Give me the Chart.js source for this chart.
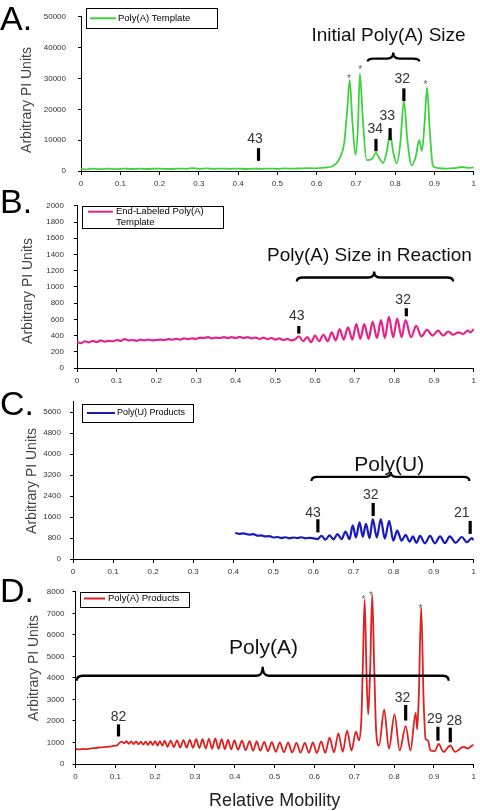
<!DOCTYPE html>
<html>
<head>
<meta charset="utf-8">
<script src="https://cdn.jsdelivr.net/npm/chart.js@4.4.0/dist/chart.umd.min.js"></script>
<style>
  body { margin: 0; background: #fff; width: 480px; height: 811px; position: relative; overflow: hidden; font-family: "Liberation Sans", Arial, sans-serif; }
  .panel { position: absolute; left: 0; width: 480px; }
  .tag { position: absolute; left: 0; font-size: 34px; line-height: 1; color: #000; }
</style>
</head>
<body>
<div class="panel" style="top:0;height:191px"><canvas id="cA"></canvas></div>
<div class="panel" style="top:191px;height:197px"><canvas id="cB"></canvas></div>
<div class="panel" style="top:388px;height:191px"><canvas id="cC"></canvas></div>
<div class="panel" style="top:579px;height:232px"><canvas id="cD"></canvas></div>
<div class="tag" style="top:1px">A.</div>
<div class="tag" style="top:184px">B.</div>
<div class="tag" style="top:386px">C.</div>
<div class="tag" style="top:573px">D.</div>
<script>
Chart.defaults.font.family = '"Liberation Sans", Arial, sans-serif';

// x = relative mobility, y = arbitrary PI units
const templateA = [[0,700],[0.015,500],[0.03,800],[0.05,600],[0.07,750],[0.09,600],[0.11,800],[0.13,650],[0.15,750],[0.17,650],[0.19,800],[0.21,700],[0.23,650],[0.25,800],[0.27,700],[0.285,950],[0.3,700],[0.32,850],[0.34,700],[0.36,800],[0.38,700],[0.4,800],[0.42,650],[0.44,750],[0.46,700],[0.48,800],[0.5,700],[0.52,850],[0.54,750],[0.56,850],[0.58,900],[0.6,850],[0.62,1100],[0.635,1300],[0.65,2500],[0.66,4500],[0.67,9000],[0.678,20000],[0.684,29500],[0.691,16000],[0.699,5200],[0.705,14000],[0.71,31600],[0.717,18000],[0.727,3500],[0.74,3800],[0.751,5900],[0.76,4000],[0.769,2600],[0.778,6000],[0.787,12000],[0.795,6000],[0.804,2500],[0.813,9000],[0.822,22800],[0.831,10000],[0.842,1800],[0.852,4500],[0.861,10000],[0.868,6500],[0.875,16000],[0.881,27000],[0.888,13000],[0.896,1700],[0.91,900],[0.93,800],[0.95,900],[0.97,1300],[0.985,1000],[1,1200]];

const endLabeledB = [[0,320],[0.01,305],[0.02,330],[0.03,315],[0.04,335],[0.05,320],[0.06,340],[0.07,325],[0.08,335],[0.09,330],[0.1,345],[0.11,335],[0.12,355],[0.13,340],[0.14,345],[0.15,335],[0.16,350],[0.17,340],[0.18,350],[0.19,340],[0.2,345],[0.21,350],[0.22,345],[0.23,355],[0.24,350],[0.25,360],[0.26,350],[0.27,365],[0.28,355],[0.29,365],[0.3,360],[0.31,375],[0.32,370],[0.33,380],[0.34,365],[0.35,375],[0.36,370],[0.37,380],[0.38,370],[0.39,380],[0.4,370],[0.41,385],[0.42,370],[0.43,380],[0.44,365],[0.45,375],[0.46,360],[0.47,375],[0.48,355],[0.49,370],[0.5,350],[0.51,365],[0.52,345],[0.53,360],[0.54,340],[0.55,355],[0.559,390],[0.57,330],[0.58,380],[0.59,320],[0.6,400],[0.61,330],[0.621,410],[0.632,330],[0.642,440],[0.652,340],[0.662,480],[0.672,350],[0.683,500],[0.694,350],[0.704,540],[0.714,360],[0.724,540],[0.735,360],[0.745,570],[0.756,370],[0.766,590],[0.776,370],[0.786,630],[0.797,380],[0.807,610],[0.818,380],[0.828,590],[0.842,380],[0.855,520],[0.868,390],[0.882,470],[0.896,400],[0.91,460],[0.923,400],[0.936,450],[0.948,410],[0.961,440],[0.973,420],[0.985,460],[0.992,440],[1,480]];

const polyUC = [[0.405,1000],[0.415,960],[0.425,980],[0.44,930],[0.45,950],[0.46,890],[0.47,900],[0.48,860],[0.49,870],[0.5,820],[0.51,840],[0.52,800],[0.53,830],[0.54,790],[0.55,820],[0.56,800],[0.57,830],[0.58,790],[0.59,810],[0.6,790],[0.61,760],[0.62,880],[0.63,740],[0.64,900],[0.65,750],[0.66,950],[0.67,760],[0.68,1050],[0.69,760],[0.698,1280],[0.706,820],[0.715,1400],[0.723,850],[0.731,1340],[0.74,800],[0.748,1520],[0.758,820],[0.768,1520],[0.778,780],[0.789,1460],[0.799,700],[0.809,1080],[0.82,700],[0.83,920],[0.84,660],[0.848,860],[0.857,620],[0.866,880],[0.878,600],[0.891,880],[0.903,600],[0.916,860],[0.928,610],[0.94,860],[0.955,620],[0.97,840],[0.983,640],[0.995,800],[1,720]];

const polyAD = [[0,700],[0.01,680],[0.02,700],[0.03,690],[0.04,730],[0.05,740],[0.06,770],[0.07,780],[0.08,800],[0.09,820],[0.1,850],[0.105,870],[0.11,980],[0.116,1040],[0.122,960],[0.128,1060],[0.134,940],[0.14,1050],[0.146,930],[0.152,1050],[0.158,920],[0.164,1040],[0.17,900],[0.176,1040],[0.182,890],[0.188,1050],[0.194,880],[0.2,1060],[0.206,860],[0.212,1060],[0.218,850],[0.224,1080],[0.231,800],[0.239,1090],[0.247,790],[0.255,1100],[0.263,770],[0.271,1110],[0.279,760],[0.287,1120],[0.295,750],[0.303,1150],[0.311,740],[0.319,1150],[0.327,720],[0.335,1170],[0.343,710],[0.351,1190],[0.359,700],[0.367,1150],[0.375,690],[0.383,1120],[0.391,680],[0.399,1100],[0.408,660],[0.418,1080],[0.427,640],[0.437,1060],[0.446,620],[0.455,1050],[0.464,610],[0.474,1030],[0.483,590],[0.493,1010],[0.503,570],[0.513,1000],[0.523,550],[0.534,990],[0.544,540],[0.555,980],[0.565,530],[0.576,980],[0.586,520],[0.596,1000],[0.606,510],[0.617,1050],[0.627,520],[0.638,1220],[0.649,540],[0.66,1420],[0.671,570],[0.682,1550],[0.693,620],[0.704,1500],[0.712,1100],[0.718,2200],[0.722,5000],[0.726,7650],[0.731,4000],[0.735,2300],[0.74,4500],[0.745,7870],[0.75,4500],[0.755,1500],[0.762,850],[0.775,2520],[0.787,710],[0.801,2300],[0.814,630],[0.829,1760],[0.841,630],[0.854,2370],[0.858,1610],[0.862,3200],[0.868,7270],[0.874,3000],[0.879,1160],[0.885,1100],[0.891,630],[0.902,600],[0.912,930],[0.924,560],[0.941,860],[0.953,560],[0.965,700],[0.974,800],[0.985,720],[0.995,850],[1,880]];

const seriesNames = [['Poly(A) Template'], ['End-Labeled Poly(A)', 'Template'], ['Poly(U) Products'], ['Poly(A) Products']];
const yAxisMax = [50000, 2000, 6000, 8000];
const yTicksA = [0, 10000, 20000, 30000, 40000, 50000];
const yTicksB = [0, 200, 400, 600, 800, 1000, 1200, 1400, 1600, 1800, 2000];
const yTicksC = [0, 800, 1600, 2400, 3200, 4000, 4800, 5600];
const yTicksD = [0, 1000, 2000, 3000, 4000, 5000, 6000, 7000, 8000];

// size labels over the ladders: [text, x, y of text, y top of bar, y bottom of bar, x of bar]
const sizeTagsA = [['43', 0.443, 10400, 7400, 3300, 0.452], ['34', 0.749, 13600, 10400, 6400, 0.751], ['33', 0.780, 17700, 13900, 10000, 0.787], ['32', 0.818, 29800, 26800, 22700, 0.822]];
const sizeTagsB = [['43', 0.554, 640, 518, 423, 0.559], ['32', 0.822, 836, 737, 638, 0.83]];
const sizeTagsC = [['43', 0.599, 1763, 1517, 1017, 0.611], ['32', 0.743, 2449, 2136, 1640, 0.749], ['21', 0.970, 1763, 1454, 958, 0.991]];
const sizeTagsD = [['82', 0.108, 2170, 1840, 1280, 0.108], ['32', 0.821, 3042, 2743, 2020, 0.829], ['29', 0.902, 2093, 1731, 1085, 0.91], ['28', 0.951, 1989, 1686, 1008, 0.941]];

function drawExtras(chart, cfg) {
  const ctx = chart.ctx;
  const X = v => chart.scales.x.getPixelForValue(v);
  const Y = v => chart.scales.y.getPixelForValue(v);
  ctx.save();

  // brace + its heading
  const b = cfg.brace;
  const x1 = X(b.from), x2 = X(b.to), xm = X(b.mid), y = Y(b.at), r = 6;
  ctx.strokeStyle = '#000';
  ctx.lineWidth = 2.3;
  ctx.beginPath();
  ctx.moveTo(x1, y + b.end);
  ctx.quadraticCurveTo(x1, y, x1 + r, y);
  ctx.lineTo(xm - r, y);
  ctx.quadraticCurveTo(xm, y, xm, y - b.tip);
  ctx.quadraticCurveTo(xm, y, xm + r, y);
  ctx.lineTo(x2 - r, y);
  ctx.quadraticCurveTo(x2, y, x2, y + b.end);
  ctx.stroke();
  ctx.fillStyle = '#111';
  ctx.textAlign = 'center';
  ctx.textBaseline = 'middle';
  ctx.font = cfg.headSize + 'px "Liberation Sans", Arial, sans-serif';
  ctx.fillText(cfg.heading[0], X(cfg.heading[1]), Y(cfg.heading[2]));

  // size tags
  cfg.tags.forEach(t => {
    ctx.fillStyle = '#000';
    ctx.fillRect(X(t[5]) - 1.6, Y(t[3]), 3.2, Y(t[4]) - Y(t[3]));
    ctx.fillStyle = '#333';
    ctx.font = '14px "Liberation Sans", Arial, sans-serif';
    ctx.fillText(t[0], X(t[1]), Y(t[2]));
  });

  // asterisks over the marker peaks
  ctx.fillStyle = '#666';
  ctx.font = '10px "Liberation Sans", Arial, sans-serif';
  (cfg.stars || []).forEach(s => ctx.fillText('*', X(s[0]), Y(s[1]) + 3));

  // legend box inside the plot
  const L = cfg.legend;
  ctx.fillStyle = '#fff';
  ctx.fillRect(L.x, L.y, L.w, L.h);
  ctx.strokeStyle = '#000';
  ctx.lineWidth = 1;
  ctx.strokeRect(L.x + 0.5, L.y + 0.5, L.w, L.h);
  ctx.strokeStyle = cfg.color;
  ctx.lineWidth = 2;
  ctx.beginPath();
  ctx.moveTo(L.lx1, L.ly);
  ctx.lineTo(L.lx2, L.ly);
  ctx.stroke();
  ctx.fillStyle = '#000';
  ctx.textAlign = 'left';
  ctx.font = L.fs + 'px "Liberation Sans", Arial, sans-serif';
  cfg.label.forEach((line, i) => ctx.fillText(line, L.tx, L.ly + i * 10.6));

  // y axis title
  ctx.translate(cfg.yTitle[0], cfg.yTitle[1]);
  ctx.rotate(-Math.PI / 2);
  ctx.textAlign = 'center';
  ctx.fillStyle = '#444';
  ctx.font = '14px "Liberation Sans", Arial, sans-serif';
  ctx.fillText('Arbitrary PI Units', 0, 0);
  ctx.restore();
}

function makePanel(id, cfg) {
  return new Chart(document.getElementById(id), {
    type: 'line',
    data: {
      datasets: [{
        label: cfg.label.join(' '),
        data: cfg.points.map(p => ({ x: p[0], y: p[1] })),
        borderColor: cfg.color,
        borderWidth: cfg.lw,
        pointRadius: 0,
        cubicInterpolationMode: 'monotone',
        fill: false
      }]
    },
    options: {
      responsive: true,
      maintainAspectRatio: false,
      animation: false,
      layout: { padding: { top: cfg.padTop, right: cfg.padRight, left: 0, bottom: 0 } },
      plugins: { legend: { display: false }, tooltip: { enabled: false } },
      scales: {
        x: {
          type: 'linear', min: 0, max: 1,
          ticks: {
            stepSize: 0.1, autoSkip: false, maxRotation: 0, color: '#333', padding: 4, font: { size: 8 },
            callback: v => String(Math.round(v * 10) / 10)
          },
          grid: { drawOnChartArea: false, tickLength: 4, color: '#000' },
          border: { color: '#000' },
          title: {
            display: !!cfg.xTitle, text: 'Relative Mobility', color: '#222',
            font: { size: 18, lineHeight: 1 }, padding: { top: 0, bottom: 1 }
          },
          afterFit: s => { s.height = cfg.xh; }
        },
        y: {
          min: 0, max: cfg.ymax,
          ticks: { autoSkip: false, color: '#333', padding: cfg.tickPad, font: { size: 8 }, callback: v => String(v) },
          grid: { drawOnChartArea: false, tickLength: 3, color: '#000' },
          border: { color: '#000' },
          afterBuildTicks: s => { s.ticks = cfg.yticks.map(v => ({ value: v })); },
          afterFit: s => { s.width = cfg.yw; }
        }
      }
    },
    plugins: [{ id: 'extras', afterDatasetsDraw: c => drawExtras(c, cfg) }]
  });
}

makePanel('cA', {
  points: templateA, label: seriesNames[0], color: '#3fd23f', lw: 1.8,
  ymax: yAxisMax[0], yticks: yTicksA, padTop: 6, padRight: 2, yw: 81, xh: 20, tickPad: 12,
  heading: ['Initial Poly(A) Size', 0.783, 43700], headSize: 19,
  brace: { from: 0.73, to: 0.861, mid: 0.795, at: 36450, tip: 6, end: 3 },
  tags: sizeTagsA,
  stars: [[0.682, 30800], [0.711, 33600], [0.877, 28800]],
  legend: { x: 86, y: 8, w: 131, h: 20, lx1: 90, lx2: 116, ly: 18.3, tx: 118, fs: 9.5 },
  yTitle: [27, 100]
});

makePanel('cB', {
  points: endLabeledB, label: seriesNames[1], color: '#e4248c', lw: 2.2,
  ymax: yAxisMax[1], yticks: yTicksB, padTop: 9, padRight: 1, yw: 77, xh: 20, tickPad: 10,
  heading: ['Poly(A) Size in Reaction', 0.737, 1386], headSize: 19,
  brace: { from: 0.554, to: 0.948, mid: 0.749, at: 1116, tip: 6, end: 4 },
  tags: sizeTagsB,
  legend: { x: 82, y: 15, w: 141, h: 22, lx1: 88, lx2: 113, ly: 20.7, tx: 116, fs: 9.5 },
  yTitle: [28, 100]
});

makePanel('cC', {
  points: polyUC, label: seriesNames[2], color: '#1a1ab8', lw: 2.2,
  ymax: yAxisMax[2], yticks: yTicksC, padTop: 10, padRight: 3, yw: 73, xh: 20, tickPad: 9,
  heading: ['Poly(U)', 0.789, 3567], headSize: 21,
  brace: { from: 0.595, to: 0.989, mid: 0.793, at: 3131, tip: 5, end: 4 },
  tags: sizeTagsC,
  legend: { x: 82, y: 16, w: 111, h: 18, lx1: 87, lx2: 115, ly: 25, tx: 117, fs: 9 },
  yTitle: [32, 93]
});

makePanel('cD', {
  points: polyAD, label: seriesNames[3], color: '#e02020', lw: 1.8, xTitle: true,
  ymax: yAxisMax[3], yticks: yTicksD, padTop: 8, padRight: 3, yw: 75.5, xh: 47, tickPad: 8,
  heading: ['Poly(A)', 0.472, 5379], headSize: 21,
  brace: { from: 0.003, to: 0.937, mid: 0.47, at: 4100, tip: 9, end: 5 },
  tags: sizeTagsD,
  stars: [[0.723, 7729], [0.742, 7955], [0.866, 7336]],
  legend: { x: 80, y: 13, w: 109, h: 15, lx1: 84, lx2: 105, ly: 19.5, tx: 108, fs: 9.5 },
  yTitle: [34, 89]
});
</script>
</body>
</html>
